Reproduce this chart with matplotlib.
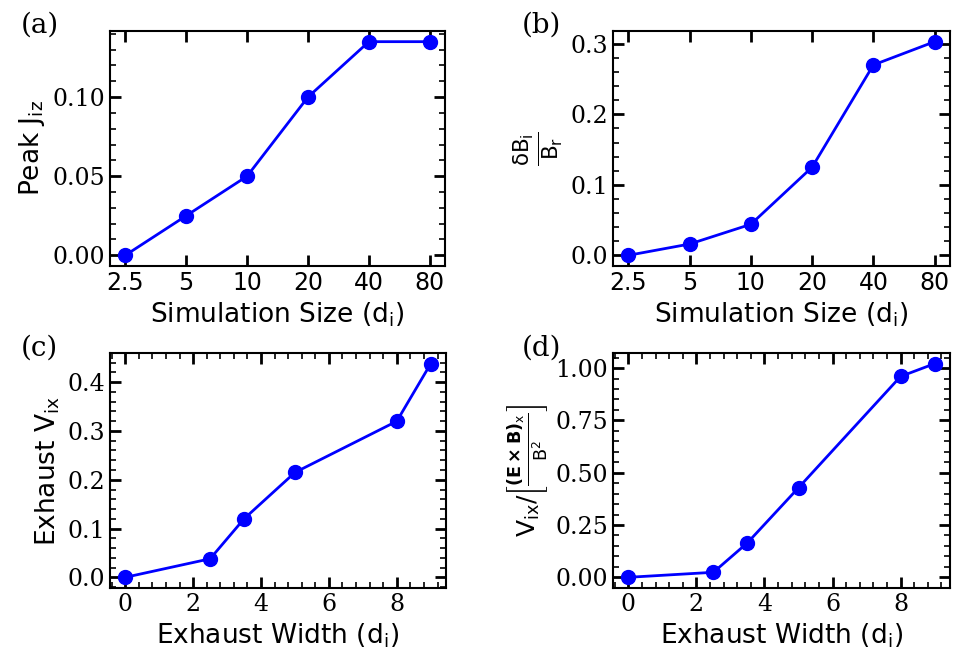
import numpy as np
import matplotlib
matplotlib.use('Agg')
from matplotlib import pyplot as plt
from matplotlib.ticker import AutoMinorLocator, MultipleLocator

plt.rcParams['mathtext.default'] = 'regular'
plt.rcParams['font.family'] = 'DejaVu Sans'

# Simulation size scan (categorical x)
sim_sizes = ['2.5', '5', '10', '20', '40', '80']
peak_jiz = [0.0, 0.025, 0.05, 0.10, 0.135, 0.135]
dbi_over_br = [0.0, 0.016, 0.044, 0.125, 0.27, 0.303]

# Exhaust width scan
exhaust_width = [0, 2.5, 3.5, 5, 8, 9]
exhaust_vix = [0.0, 0.038, 0.12, 0.215, 0.32, 0.438]
vix_over_exb = [0.0, 0.024, 0.165, 0.428, 0.96, 1.021]

fig = plt.figure(figsize=(9.66, 6.65), dpi=100)
ax_a = fig.add_axes([0.1139, 0.6, 0.3468, 0.3534])
ax_b = fig.add_axes([0.6346, 0.6, 0.3488, 0.3534])
ax_c = fig.add_axes([0.1139, 0.1158, 0.3478, 0.3534])
ax_d = fig.add_axes([0.6346, 0.1158, 0.3488, 0.3534])

serif = 'DejaVu Serif'
tick_fs = 17
label_fs = 19

def style_axis(ax, minor_x=True):
    for sp in ax.spines.values():
        sp.set_linewidth(1.5)
    ax.tick_params(which='both', direction='in', top=True, right=True)
    ax.tick_params(which='major', length=8, width=2)
    ax.tick_params(which='minor', length=4, width=1.2)
    ax.yaxis.set_minor_locator(AutoMinorLocator(5))
    if minor_x:
        ax.xaxis.set_minor_locator(AutoMinorLocator(5))
    for lab in ax.get_yticklabels():
        lab.set_fontfamily(serif)
        lab.set_fontsize(tick_fs)

line_kw = dict(color='blue', marker='o', markersize=10, linewidth=2)

# (a)
pos = np.arange(len(sim_sizes))
ax_a.plot(pos, peak_jiz, **line_kw)
ax_a.set_xticks(pos)
ax_a.set_xticklabels(sim_sizes, fontsize=tick_fs)
ax_a.yaxis.set_major_locator(MultipleLocator(0.05))
style_axis(ax_a, minor_x=False)
ax_a.set_xlabel('Simulation Size ($d_i$)', fontsize=label_fs)
ax_a.set_ylabel('Peak $J_{iz}$', fontsize=label_fs)

# (b)
ax_b.plot(pos, dbi_over_br, **line_kw)
ax_b.set_xticks(pos)
ax_b.set_xticklabels(sim_sizes, fontsize=tick_fs)
ax_b.yaxis.set_major_locator(MultipleLocator(0.1))
style_axis(ax_b, minor_x=False)
ax_b.set_xlabel('Simulation Size ($d_i$)', fontsize=label_fs)
ax_b.set_ylabel(r'$\frac{\delta B_i}{B_r}$', fontsize=22)

# (c)
ax_c.plot(exhaust_width, exhaust_vix, **line_kw)
ax_c.xaxis.set_major_locator(MultipleLocator(2))
ax_c.yaxis.set_major_locator(MultipleLocator(0.1))
style_axis(ax_c)
for lab in ax_c.get_xticklabels():
    lab.set_fontfamily(serif)
    lab.set_fontsize(tick_fs)
ax_c.set_xlabel('Exhaust Width ($d_i$)', fontsize=label_fs)
ax_c.set_ylabel('Exhaust $V_{ix}$', fontsize=label_fs)

# (d)
ax_d.plot(exhaust_width, vix_over_exb, **line_kw)
ax_d.xaxis.set_major_locator(MultipleLocator(2))
ax_d.yaxis.set_major_locator(MultipleLocator(0.25))
style_axis(ax_d)
for lab in ax_d.get_xticklabels():
    lab.set_fontfamily(serif)
    lab.set_fontsize(tick_fs)
ax_d.set_xlabel('Exhaust Width ($d_i$)', fontsize=label_fs)
ax_d.set_ylabel(r'$V_{ix}/\left[\frac{\mathbf{(E\times B)}_x}{B^2}\right]$', fontsize=18)

for x, y, t in [(0.021, 0.982, '(a)'), (0.540, 0.982, '(b)'),
                (0.021, 0.497, '(c)'), (0.540, 0.497, '(d)')]:
    fig.text(x, y, t, family=serif, fontsize=20, va='top', ha='left')

fig.savefig('out.png', dpi=100)
